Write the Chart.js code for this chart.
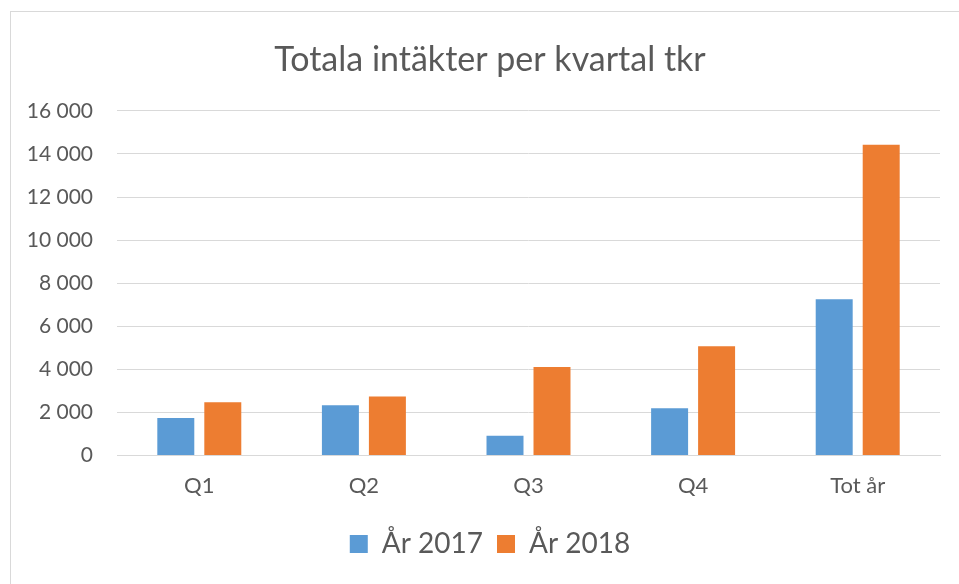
<!DOCTYPE html>
<html>
<head>
<meta charset="utf-8">
<script src="https://cdn.jsdelivr.net/npm/chart.js@4/dist/chart.umd.min.js"></script>
<style>
  html, body { margin: 0; padding: 0; background: #fff; }
  #frame {
    position: absolute; left: 10px; top: 11px; width: 980px; height: 600px;
    border: 1px solid #d9d9d9; box-sizing: border-box;
  }
  #wrap { position: absolute; left: 0; top: 0; width: 959px; height: 584px; }
</style>
</head>
<body>
<div id="frame"></div>
<div id="wrap"><canvas id="chartIntakter"></canvas></div>
<script>
// kvartal och värden (tkr)
const kvartal = ["Q1", "Q2", "Q3", "Q4", "Tot år"];
const ar2017 = [1750, 2340, 920, 2200, 7260];
const ar2018 = [2470, 2740, 4110, 5080, 14420];
const yTicks = [0, 2000, 4000, 6000, 8000, 10000, 12000, 14000, 16000];

const textColor = "#595959";
const gridColor = "#d9d9d9";
const fontFamily = "Lato, 'Open Sans', sans-serif";

function formatTkr(v) {
  return String(v).replace(/\B(?=(\d{3})+(?!\d))/g, " ");
}

// y-etiketterna får inte klippas av skalans vänsterkant
const yLabelClip = {
  id: "yLabelClip",
  afterLayout: function (chart) {
    chart.scales.y.left = 0;
  },
};

new Chart(document.getElementById("chartIntakter"), {
  type: "bar",
  data: {
    labels: kvartal,
    datasets: [
      {
        label: "År 2017",
        data: ar2017,
        backgroundColor: "#5b9bd5",
        barPercentage: 0.787,
        categoryPercentage: 0.571,
      },
      {
        label: "År 2018",
        data: ar2018,
        backgroundColor: "#ed7d31",
        barPercentage: 0.787,
        categoryPercentage: 0.571,
      },
    ],
  },
  plugins: [yLabelClip],
  options: {
    responsive: true,
    maintainAspectRatio: false,
    animation: false,
    layout: {
      padding: { left: 40, right: 19, top: 0, bottom: 16 },
    },
    plugins: {
      title: {
        display: true,
        text: "Totala intäkter per kvartal tkr",
        color: textColor,
        font: { family: fontFamily, size: 34, weight: "normal" },
        padding: { top: 40, bottom: 30 },
      },
      legend: {
        position: "bottom",
        labels: {
          color: textColor,
          font: { family: fontFamily, size: 28 },
          boxWidth: 18,
          boxHeight: 18,
          padding: 14,
        },
      },
      tooltip: { enabled: false },
    },
    scales: {
      x: {
        grid: { display: false, drawTicks: false },
        border: { color: gridColor },
        ticks: {
          color: textColor,
          font: { family: fontFamily, size: 22 },
          padding: 17,
        },
      },
      y: {
        min: 0,
        max: 16000,
        afterFit: function (scale) {
          scale.width = 77;
        },
        afterBuildTicks: function (scale) {
          scale.ticks = yTicks.map((v) => ({ value: v }));
        },
        grid: { color: gridColor, drawTicks: false },
        border: { display: false },
        ticks: {
          color: textColor,
          font: { family: fontFamily, size: 21 },
          padding: 24,
          callback: function (v) {
            return formatTkr(v);
          },
        },
      },
    },
  },
});
</script>
</body>
</html>
